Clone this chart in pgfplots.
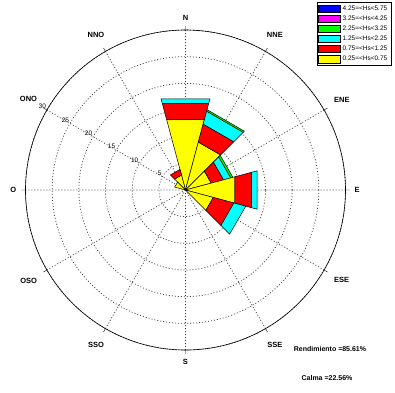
\documentclass[border=0pt]{standalone}
\usepackage{fontspec}
\setmainfont{Liberation Sans}
\usepackage{pgfplots}
\pgfplotsset{compat=1.18}
\usepgfplotslibrary{polar}
\definecolor{cY}{RGB}{255,255,0}
\definecolor{cR}{RGB}{255,0,0}
\definecolor{cC}{RGB}{0,255,255}
\definecolor{cG}{RGB}{0,255,0}
\definecolor{cM}{RGB}{255,0,255}
\definecolor{cB}{RGB}{0,0,255}
% band: colour, angle from, angle to, inner radius, outer radius (polar, degrees ccw from east)
\newcommand{\band}[5]{\addplot[fill=#1, draw=black, line width=0.5pt] coordinates {(#2,#4) (#3,#4) (#3,#5) (#2,#5)} --cycle;}
\newcommand{\rlab}[1]{\node[font=\fontsize{6.5}{7}\selectfont, anchor=south east, inner sep=0.8pt] at (axis cs:150,#1) {#1};}
\begin{document}
\begin{tikzpicture}
\useasboundingbox (-185.5pt,-202pt) rectangle (209.5pt,190pt);
\begin{polaraxis}[
  anchor=center, at={(0pt,0pt)},
  scale only axis, width=320pt, height=320pt,
  clip=false,
  ymin=0, ymax=30,
  xtick={0,30,...,330},
  xticklabels={E,ENE,NNE,N,NNO,ONO,O,OSO,SSO,S,SSE,ESE},
  xticklabel style={font=\bfseries\fontsize{7.5}{8}\selectfont, inner sep=9pt},
  ytick={5,10,15,20,25,30},
  yticklabel=\empty,
  ytick style={draw=none},
  major tick length=4pt,
  xtick style={black, line width=0.4pt},
  grid=major,
  major grid style={dash pattern=on 1pt off 2pt, black!75, line width=0.75pt},
  axis line style={black, line width=0.6pt},
  y axis line style={draw=none},
  legend style={at={(1.142,1.0875)}, anchor=north east, draw=black, line width=0.4pt,
    font=\fontsize{6.5}{7}\selectfont, inner sep=1.5pt, row sep=0pt,
    cells={anchor=west}},
  legend cell align=left,
  legend image code/.code={\draw[#1] (0pt,-3.8pt) rectangle (22pt,3.8pt);},
]
\addlegendimage{fill=cB, draw=black, line width=0.4pt}
\addlegendimage{fill=cM, draw=black, line width=0.4pt}
\addlegendimage{fill=cG, draw=black, line width=0.4pt}
\addlegendimage{fill=cC, draw=black, line width=0.4pt}
\addlegendimage{fill=cR, draw=black, line width=0.4pt}
\addlegendimage{fill=cY, draw=black, line width=0.4pt}
\legend{4.25=<Hs<5.75, 3.25=<Hs<4.25, 2.25=<Hs<3.25, 1.25=<Hs<2.25, 0.75=<Hs<1.25, 0.25=<Hs<0.75}
% N
\band{cY}{75}{105}{0}{13.7}
\band{cR}{75}{105}{13.7}{16.8}
\band{cC}{75}{105}{16.8}{17.7}
% NNE
\band{cY}{45}{75}{0}{9.3}
\band{cR}{45}{75}{9.3}{12.8}
\band{cC}{45}{75}{12.8}{15.3}
\band{cG}{45}{75}{15.3}{15.6}
% ENE
\band{cY}{15}{45}{0}{5.0}
\band{cR}{15}{45}{5.0}{7.4}
\band{cC}{15}{45}{7.4}{8.8}
\band{cG}{15}{45}{8.8}{9.2}
% E
\band{cY}{-15}{15}{0}{9.6}
\band{cR}{-15}{15}{9.6}{12.85}
\band{cC}{-15}{15}{12.85}{13.9}
% ESE
\band{cY}{-45}{-15}{0}{5.4}
\band{cR}{-45}{-15}{5.4}{9.4}
\band{cC}{-45}{-15}{9.4}{11.7}
% NNO
\band{cY}{105}{135}{0}{2.9}
\band{cR}{105}{135}{2.9}{4.0}
% ONO
\band{cY}{135}{165}{0}{2.1}
% radial labels
\rlab{5}
\rlab{10}
\rlab{15}
\rlab{20}
\rlab{25}
\rlab{30}
\end{polaraxis}
\node[font=\bfseries\fontsize{7}{8}\selectfont] at (144.5pt,-159pt) {Rendimiento =85.61\%};
\node[font=\bfseries\fontsize{7}{8}\selectfont] at (141.5pt,-188pt) {Calma =22.56\%};
\end{tikzpicture}
\end{document}
